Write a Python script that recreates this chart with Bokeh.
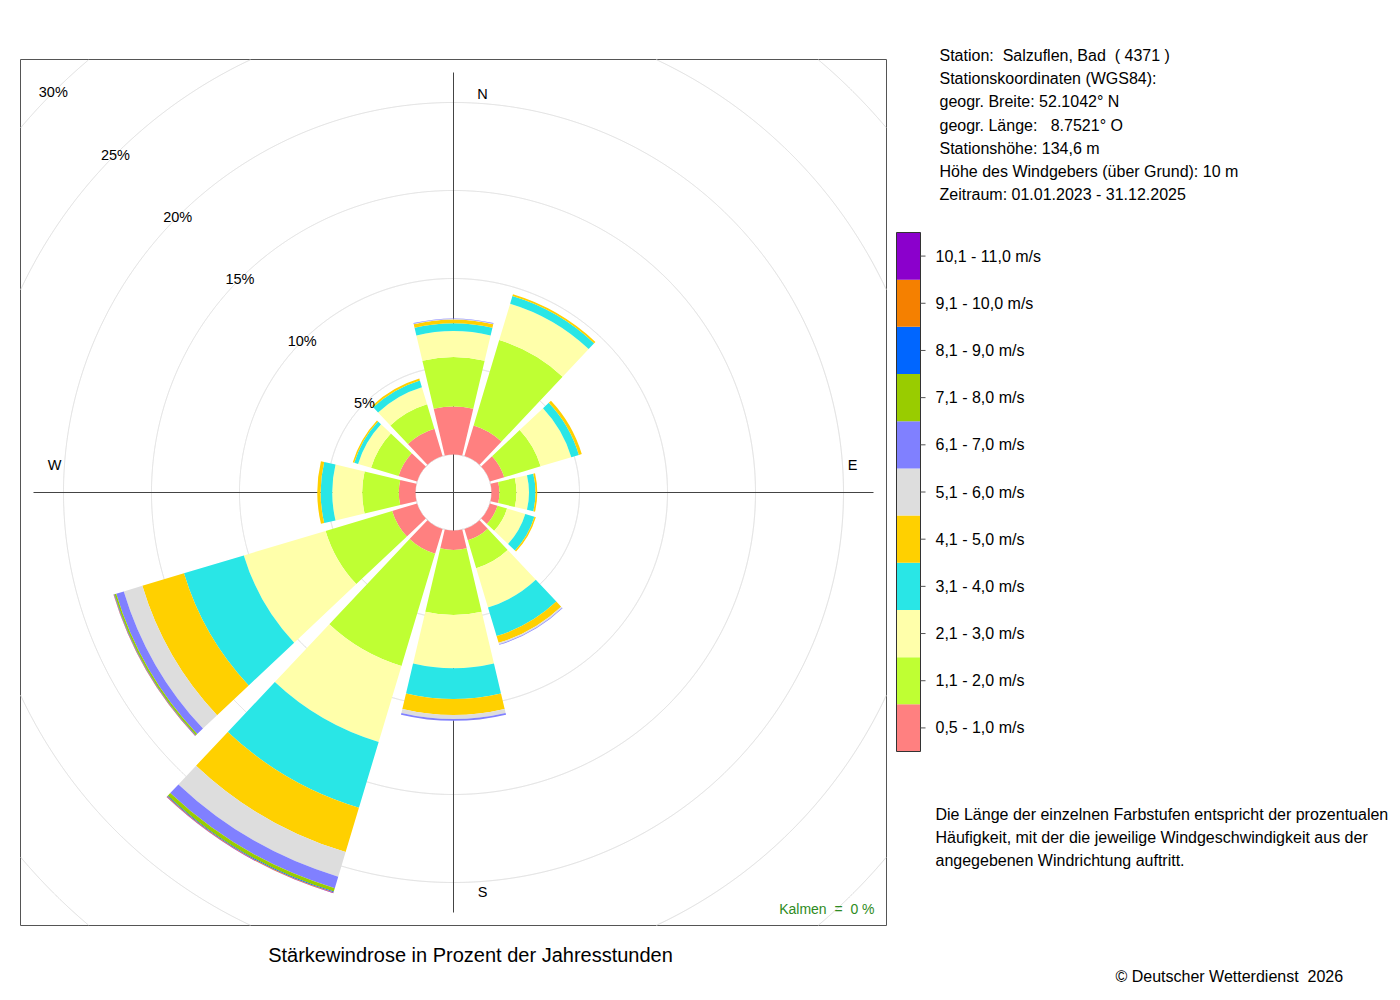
import numpy as np
from bokeh.plotting import figure
from bokeh.models import Range1d, ColumnDataSource
from bokeh.embed import file_html
from bokeh.resources import INLINE
from bokeh.core.properties import value

# ---------------- data ----------------
directions = [0, 30, 60, 90, 120, 150, 180, 210, 240, 270, 300, 330]
direction_names = ["N", "E", "S", "W"]

speed_labels = ["0,5 - 1,0 m/s", "1,1 - 2,0 m/s", "2,1 - 3,0 m/s", "3,1 - 4,0 m/s",
                "4,1 - 5,0 m/s", "5,1 - 6,0 m/s", "6,1 - 7,0 m/s", "7,1 - 8,0 m/s",
                "8,1 - 9,0 m/s", "9,1 - 10,0 m/s", "10,1 - 11,0 m/s"]
speed_colors = ["#FF8080", "#BFFF33", "#FFFFAA", "#29E6E6", "#FFD000", "#DDDDDD",
                "#8080FF", "#99CC00", "#0066FF", "#F58000", "#8B00CC"]

# percent of hours per direction (N, 30, 60, E, 120, 150, S, 210, 240, W, 300, 330)
v_05_10 = [2.73, 1.82, 0.85, 0.45, 0.45, 0.68, 1.10, 1.48, 1.48, 0.95, 1.10, 1.62]
v_11_20 = [2.80, 5.06, 2.16, 0.97, 0.57, 1.65, 3.70, 6.65, 3.95, 2.08, 1.63, 1.45]
v_21_30 = [1.48, 2.16, 1.82, 0.71, 1.08, 2.33, 3.03, 4.51, 4.85, 1.70, 0.77, 1.02]
v_31_40 = [0.45, 0.45, 0.45, 0.37, 0.54, 1.70, 1.74, 3.90, 3.55, 0.66, 0.23, 0.40]
v_41_50 = [0.20, 0.11, 0.17, 0.10, 0.085, 0.40, 0.91, 2.63, 2.47, 0.19, 0.085, 0.11]
v_51_60 = [0.04, 0.00, 0.00, 0.00, 0.00, 0.085, 0.23, 1.46, 1.10, 0.00, 0.00, 0.00]
v_61_70 = [0.03, 0.00, 0.00, 0.00, 0.00, 0.03, 0.10, 0.68, 0.45, 0.00, 0.00, 0.00]
v_71_80 = [0.00, 0.00, 0.00, 0.00, 0.00, 0.00, 0.00, 0.20, 0.10, 0.00, 0.00, 0.00]
v_81_90 = [0.00, 0.00, 0.00, 0.00, 0.00, 0.00, 0.00, 0.05, 0.03, 0.00, 0.00, 0.00]
v_91_100 = [0.00, 0.00, 0.00, 0.00, 0.00, 0.00, 0.00, 0.03, 0.02, 0.00, 0.00, 0.00]
v_101_110 = [0.00, 0.00, 0.00, 0.00, 0.00, 0.00, 0.00, 0.02, 0.01, 0.00, 0.00, 0.00]
series = [v_05_10, v_11_20, v_21_30, v_31_40, v_41_50, v_51_60,
          v_61_70, v_71_80, v_81_90, v_91_100, v_101_110]

ring_pcts = [5, 10, 15, 20, 25, 30]
ring_labels = ["5%", "10%", "15%", "20%", "25%", "30%"]

NB = "\u00a0"
station_lines = ["Station: " + NB + "Salzuflen, Bad " + NB + "( 4371 )",
                 "Stationskoordinaten (WGS84):",
                 "geogr. Breite: 52.1042° N",
                 "geogr. Länge: " + NB + NB + "8.7521° O",
                 "Stationshöhe: 134,6 m",
                 "Höhe des Windgebers (über Grund): 10 m",
                 "Zeitraum: 01.01.2023 - 31.12.2025"]
note_lines = ["Die Länge der einzelnen Farbstufen entspricht der prozentualen",
              "Häufigkeit, mit der die jeweilige Windgeschwindigkeit aus der",
              "angegebenen Windrichtung auftritt."]
title_text = "Stärkewindrose in Prozent der Jahresstunden"
calm_text = "Kalmen " + NB + "= " + NB + "0 %"
copyright_text = "© Deutscher Wetterdienst " + NB + "2026"

# ---------------- layout (page pixels -> data units) ----------------
W, H = 1396, 992
def X(px):
    return px
def Y(py):
    return H - py

FONT = value("Liberation Sans")
CX, CY = X(453), Y(492)
PX_PER_PCT = 17.6
HOLE = 38.0
HALF = 13.3
BOX_L, BOX_R, BOX_T, BOX_B = X(20), X(886), Y(59), Y(925)

p = figure(width=W, height=H, x_range=Range1d(0, W), y_range=Range1d(0, H),
           output_backend="svg", toolbar_location=None,
           x_axis_type=None, y_axis_type=None, min_border=0)
p.outline_line_color = None
p.grid.visible = False
p.background_fill_color = "white"

# plot box
p.quad(left=[BOX_L], right=[BOX_R], top=[BOX_T], bottom=[BOX_B],
       fill_color=None, line_color="#555555", line_width=1)

# grid circles, clipped to the box
theta = np.linspace(0, 2 * np.pi, 4000)
for pct in [0] + ring_pcts:
    r = HOLE + pct * PX_PER_PCT
    xs = CX + r * np.cos(theta)
    ys = CY + r * np.sin(theta)
    out = (xs < BOX_L) | (xs > BOX_R) | (ys < BOX_B) | (ys > BOX_T)
    xs = np.where(out, np.nan, xs)
    ys = np.where(out, np.nan, ys)
    p.line(xs, ys, line_color="#DCDCDC", line_width=1)

# axis cross
AX = 420
p.segment(x0=[CX, CX - AX], y0=[CY - AX, CY], x1=[CX, CX + AX], y1=[CY + AX, CY],
          line_color="#444444", line_width=1)

# wedges
cum = np.zeros(len(directions))
for k, vals in enumerate(series):
    vals = np.array(vals, dtype=float)
    inner = HOLE + cum * PX_PER_PCT
    outer = HOLE + (cum + vals) * PX_PER_PCT
    cum = cum + vals
    keep = vals > 0
    d = np.array(directions, dtype=float)[keep]
    src = ColumnDataSource(dict(
        x=[CX] * int(keep.sum()), y=[CY] * int(keep.sum()),
        inner=inner[keep], outer=outer[keep],
        start=np.radians(90 - d - HALF), end=np.radians(90 - d + HALF)))
    p.annular_wedge(x="x", y="y", inner_radius="inner", outer_radius="outer",
                    start_angle="start", end_angle="end",
                    source=src, fill_color=speed_colors[k], line_color=None)

# ring labels along 315 degrees
rr = np.array([HOLE + v * PX_PER_PCT for v in ring_pcts])
p.text(x=list(CX - rr / np.sqrt(2)), y=list(CY + rr / np.sqrt(2)), text=ring_labels,
       text_font=FONT, text_font_size="14.5px", text_align="center",
       text_baseline="middle", text_color="black")

# direction labels
RD = 399
p.text(x=[CX + 29, CX + RD, CX + 29, CX - RD], y=[CY + RD, CY + 28, CY - RD, CY + 28],
       text=direction_names, text_font=FONT, text_font_size="14.5px",
       text_align="center", text_baseline="middle", text_color="black")

# calm text
p.text(x=[X(874)], y=[Y(908)], text=[calm_text], text_font=FONT,
       text_font_size="14px", text_align="right", text_baseline="middle",
       text_color="#2E8B22")

# title
p.text(x=[X(470)], y=[Y(954)], text=[title_text], text_font=FONT,
       text_font_size="20px", text_align="center", text_baseline="middle",
       text_color="black")

# station info
p.text(x=[X(939)] * len(station_lines),
       y=[Y(55 + i * 23.17) for i in range(len(station_lines))],
       text=station_lines, text_font=FONT, text_font_size="16px",
       text_align="left", text_baseline="middle", text_color="black")

# legend colour bar
n = len(speed_labels)
LB_T, LB_B = 232, 751
seg = (LB_B - LB_T) / n
lo = [Y(LB_B - i * seg) for i in range(n)]
hi = [Y(LB_B - (i + 1) * seg) for i in range(n)]
p.quad(left=[X(896)] * n, right=[X(920)] * n, top=hi, bottom=lo,
       fill_color=speed_colors, line_color=None)
p.quad(left=[X(896)], right=[X(920)], top=[Y(LB_T)], bottom=[Y(LB_B)],
       fill_color=None, line_color="#333333", line_width=1)
mids = [Y(LB_B - (i + 0.5) * seg) for i in range(n)]
p.segment(x0=[X(920)] * n, y0=mids, x1=[X(925)] * n, y1=mids,
          line_color="#555555", line_width=1)
p.text(x=[X(935)] * n, y=mids, text=speed_labels, text_font=FONT,
       text_font_size="16px", text_align="left", text_baseline="middle",
       text_color="black")

# note
p.text(x=[X(935)] * len(note_lines), y=[Y(814 + i * 23) for i in range(len(note_lines))],
       text=note_lines, text_font=FONT, text_font_size="16px", text_align="left",
       text_baseline="middle", text_color="black")

# copyright
p.text(x=[X(1115)], y=[Y(976)], text=[copyright_text], text_font=FONT,
       text_font_size="16px", text_align="left", text_baseline="middle",
       text_color="black")

open("out.html", "w").write(file_html(p, INLINE))
